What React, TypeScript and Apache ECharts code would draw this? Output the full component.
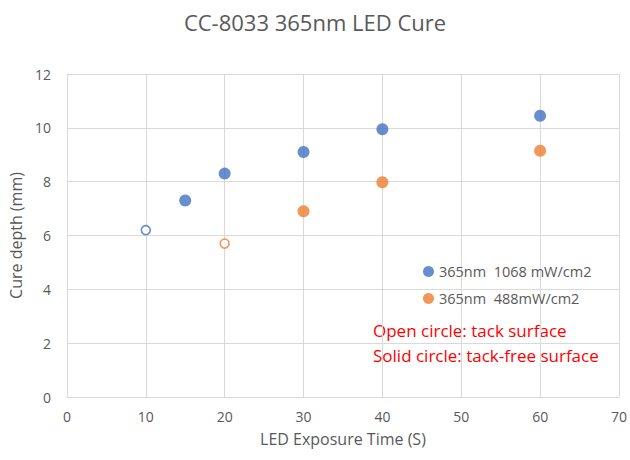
import React, { useEffect, useRef } from "react";
import * as echarts from "echarts";

const blueX = [10, 15, 20, 30, 40, 60];
const blueY = [6.2, 7.3, 8.3, 9.1, 9.95, 10.45];
const blueOpen = [true, false, false, false, false, false];

const orangeX = [20, 30, 40, 60];
const orangeY = [5.7, 6.9, 7.98, 9.15];
const orangeOpen = [true, false, false, false];

const seriesNames = ["365nm  1068 mW/cm2", "365nm  488mW/cm2"];
const notes = ["Open circle: tack surface", "Solid circle: tack-free surface"];

const FONT = "'Open Sans', sans-serif";
const GREY = "#595959";

function buildData(xs: number[], ys: number[], open: boolean[], color: string) {
  return xs.map((x, i) =>
    open[i]
      ? {
          value: [x, ys[i]],
          symbolSize: 9,
          itemStyle: { color: "#ffffff", borderColor: color, borderWidth: 1.6 },
        }
      : { value: [x, ys[i]] }
  );
}

export default function App() {
  const ref = useRef<HTMLDivElement>(null);
  useEffect(() => {
    if (!ref.current) return;
    const chart = echarts.init(ref.current, undefined, { renderer: "svg" });
    chart.setOption({
      animation: false,
      backgroundColor: "#ffffff",
      title: {
        text: "CC-8033 365nm LED Cure",
        left: "center",
        top: 6,
        textStyle: { fontFamily: FONT, fontSize: 22, fontWeight: "normal", color: GREY },
      },
      grid: { left: 66, right: 8, top: 74, bottom: 63 },
      legend: {
        orient: "vertical",
        left: 418,
        top: 259,
        itemGap: 12,
        itemWidth: 11,
        itemHeight: 11,
        icon: "circle",
        textStyle: { fontFamily: FONT, fontSize: 14.5, color: GREY },
        data: seriesNames,
      },
      xAxis: {
        type: "value",
        min: 0,
        max: 70,
        interval: 10,
        name: "LED Exposure Time (S)",
        nameLocation: "middle",
        nameGap: 34,
        nameTextStyle: { fontFamily: FONT, fontSize: 16, color: GREY },
        axisLine: { show: true, lineStyle: { color: "#d9d9d9" } },
        axisTick: { show: false },
        axisLabel: { fontFamily: FONT, fontSize: 14, color: GREY, margin: 12 },
        splitLine: { show: true, lineStyle: { color: "#d9d9d9" } },
      },
      yAxis: {
        type: "value",
        min: 0,
        max: 12,
        interval: 2,
        name: "Cure depth (mm)",
        nameLocation: "middle",
        nameGap: 35,
        nameTextStyle: { fontFamily: FONT, fontSize: 16, color: GREY },
        axisLine: { show: true, lineStyle: { color: "#d9d9d9" } },
        axisTick: { show: false },
        axisLabel: { fontFamily: FONT, fontSize: 14, color: GREY, margin: 16 },
        splitLine: { show: true, lineStyle: { color: "#d9d9d9" } },
      },
      series: [
        {
          name: seriesNames[0],
          type: "scatter",
          symbol: "circle",
          symbolSize: 12,
          itemStyle: { color: "#4472C4" },
          data: buildData(blueX, blueY, blueOpen, "#4472C4"),
        },
        {
          name: seriesNames[1],
          type: "scatter",
          symbol: "circle",
          symbolSize: 12,
          itemStyle: { color: "#ED7D31" },
          data: buildData(orangeX, orangeY, orangeOpen, "#ED7D31"),
        },
      ],
      graphic: notes.map((t, i) => ({
        type: "text",
        left: 373,
        top: 322 + i * 25,
        style: { text: t, fill: "#ff0000", fontFamily: FONT, fontSize: 17 },
      })),
    });
    return () => chart.dispose();
  }, []);
  return <div ref={ref} style={{ width: 630, height: 460, position: "absolute", left: 0, top: 0 }} />;
}
